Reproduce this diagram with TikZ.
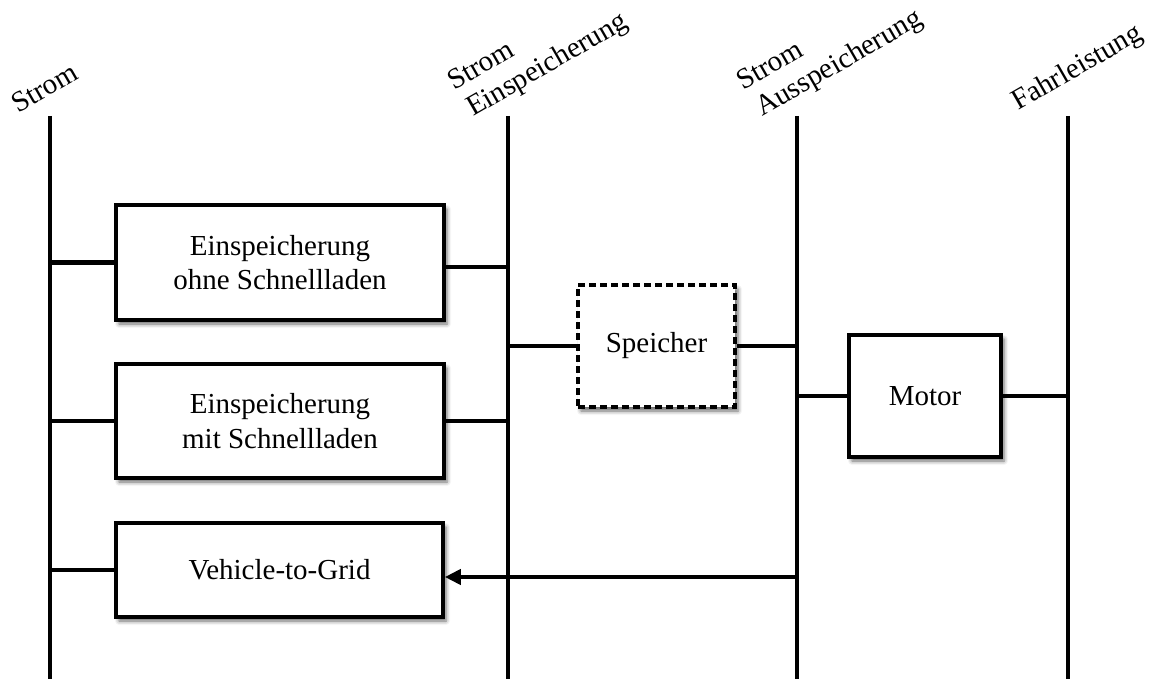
\documentclass[tikz,border=0pt]{standalone}
\usepackage{fontspec}
\setmainfont{Liberation Serif}
\usetikzlibrary{arrows.meta,shadows.blur}
\begin{document}
\begin{tikzpicture}[x=1pt,y=-1pt,
  every node/.style={font=\fontsize{29}{34.5}\selectfont},
  lane/.style={line width=4.8pt},
  link/.style={line width=4.8pt},
  lanelabel/.style={anchor=base west,rotate=30,inner sep=0pt},
  boxshadow/.style={blur shadow={shadow xshift=3pt,shadow yshift=-4pt,shadow blur radius=4pt,shadow opacity=60}},
  procbox/.style={draw,line width=3.6pt,fill=white,align=center,boxshadow},
  storebox/.style={procbox,dash pattern=on 7pt off 4pt}]
\useasboundingbox (0,0) rectangle (1151,679);

% lanes
\coordinate (l1t) at (50,116);   \coordinate (l1b) at (50,679);
\coordinate (l2t) at (508,116);  \coordinate (l2b) at (508,679);
\coordinate (l3t) at (797,116);  \coordinate (l3b) at (797,679);
\coordinate (l4t) at (1068,116); \coordinate (l4b) at (1068,679);
\draw[lane] (l1t) -- (l1b);
\draw[lane] (l2t) -- (l2b);
\draw[lane] (l3t) -- (l3b);
\draw[lane] (l4t) -- (l4b);

% lane headings
\node[lanelabel] (h1) at (18,114) {Strom};
\node[lanelabel] (h2a) at (454,91) {Strom};
\node[lanelabel] (h2b) at (473,117) {Einspeicherung};
\node[lanelabel] (h3a) at (743,91) {Strom};
\node[lanelabel] (h3b) at (762,117) {Ausspeicherung};
\node[lanelabel] (h4) at (1018,111) {Fahrleistung};

% process boxes
\node[procbox,minimum width=328pt,minimum height=115pt] (ohne) at (280,262.5)
  {Einspeicherung\\ohne Schnellladen};
\node[procbox,minimum width=328pt,minimum height=114pt] (mit) at (280,421)
  {Einspeicherung\\mit Schnellladen};
\node[procbox,minimum width=327pt,minimum height=94pt] (v2g) at (279.5,570)
  {Vehicle-to-Grid};
\node[storebox,minimum width=157pt,minimum height=122pt] (sp) at (656.5,346)
  {Speicher};
\node[procbox,minimum width=152pt,minimum height=122pt] (mot) at (925,396)
  {Motor};

% connectors
\draw[link] (l1t |- ohne.west) -- (ohne.west);
\draw[link] ([yshift=-4.5pt]ohne.east) -- ([yshift=-4.5pt]ohne.east -| l2t);
\draw[link] (l1t |- mit.west) -- (mit.west);
\draw[link] (mit.east) -- (mit.east -| l2t);
\draw[link] (l1t |- v2g.west) -- (v2g.west);
\draw[link] (l2t |- sp.west) -- (sp.west);
\draw[link] (sp.east) -- (sp.east -| l3t);
\draw[link] (l3t |- mot.west) -- (mot.west);
\draw[link] (mot.east) -- (mot.east -| l4t);
\draw[link,-{Triangle[length=16pt,width=15pt]}]
  ([yshift=-7pt]v2g.east -| l3t) -- ([yshift=-7pt]v2g.east);
\end{tikzpicture}
\end{document}
